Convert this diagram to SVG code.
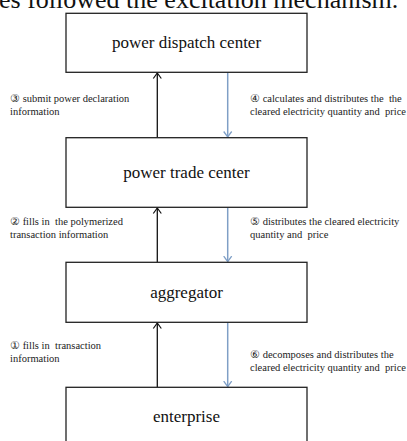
<svg xmlns="http://www.w3.org/2000/svg" width="407" height="441" viewBox="0 0 407 441">
<style>
.box{fill:#fff;stroke:#222;stroke-width:1.3}
.up{stroke:#111;stroke-width:1.3;fill:none}
.dn{stroke:#7f9fc6;stroke-width:1.5;fill:none}
.lb{white-space:pre}
</style>
<defs>
<marker id="ah" markerUnits="userSpaceOnUse" markerWidth="12" markerHeight="12" refX="6" refY="5" orient="auto">
<path d="M0.5,1 L6,5 L0.5,9" fill="none" stroke="#111" stroke-width="1.2"/>
</marker>
<marker id="ahb" markerUnits="userSpaceOnUse" markerWidth="12" markerHeight="12" refX="6" refY="5" orient="auto">
<path d="M0.5,1 L6,5 L0.5,9" fill="none" stroke="#7f9fc6" stroke-width="1.3"/>
</marker>
</defs>
<rect width="407" height="441" fill="#fff"/>
<text x="-1" y="8" font-family="Liberation Serif, serif" font-size="26" fill="#111">es followed the excitation mechanism.</text>
<g id="connectors">
<line class="up" x1="157.3" y1="137.7" x2="157.3" y2="73" marker-end="url(#ah)"/>
<line class="dn" x1="227.7" y1="72.3" x2="227.7" y2="137" marker-end="url(#ahb)"/>
<line class="up" x1="157.3" y1="262.3" x2="157.3" y2="208" marker-end="url(#ah)"/>
<line class="dn" x1="227.7" y1="207.3" x2="227.7" y2="261.6" marker-end="url(#ahb)"/>
<line class="up" x1="157.3" y1="387.3" x2="157.3" y2="323" marker-end="url(#ah)"/>
<line class="dn" x1="227.7" y1="322.3" x2="227.7" y2="386.6" marker-end="url(#ahb)"/>
<g font-family="Liberation Serif, serif" font-size="10.5" fill="#222">
<text class="lb" x="10" y="102">③ submit power declaration</text>
<text class="lb" x="10" y="115">information</text>
<text class="lb" x="250" y="102">④ calculates and distributes the  the</text>
<text class="lb" x="250" y="115">cleared electricity quantity and  price</text>
<text class="lb" x="10" y="225">② fills in  the polymerized</text>
<text class="lb" x="10" y="238">transaction information</text>
<text class="lb" x="250" y="225">⑤ distributes the cleared electricity</text>
<text class="lb" x="250" y="238">quantity and  price</text>
<text class="lb" x="10" y="349">① fills in  transaction</text>
<text class="lb" x="10" y="362">information</text>
<text class="lb" x="250" y="358">⑥ decomposes and distributes the</text>
<text class="lb" x="250" y="371">cleared electricity quantity and  price</text>
</g>
</g>
<g id="dispatch">
<rect class="box" x="66" y="13.3" width="241" height="59"/>
<text x="186.5" y="48.3" font-family="Liberation Serif, serif" font-size="17" fill="#111" text-anchor="middle">power dispatch center</text>
</g>
<g id="trade">
<rect class="box" x="66" y="137.7" width="241" height="69.6"/>
<text x="186.5" y="177.5" font-family="Liberation Serif, serif" font-size="17" fill="#111" text-anchor="middle">power trade center</text>
</g>
<g id="aggregator">
<rect class="box" x="66" y="262.3" width="241" height="60"/>
<text x="186.5" y="297.5" font-family="Liberation Serif, serif" font-size="17" fill="#111" text-anchor="middle">aggregator</text>
</g>
<g id="enterprise">
<rect class="box" x="66" y="387.3" width="241" height="62"/>
<text x="186.5" y="422" font-family="Liberation Serif, serif" font-size="17" fill="#111" text-anchor="middle">enterprise</text>
</g>
</svg>
